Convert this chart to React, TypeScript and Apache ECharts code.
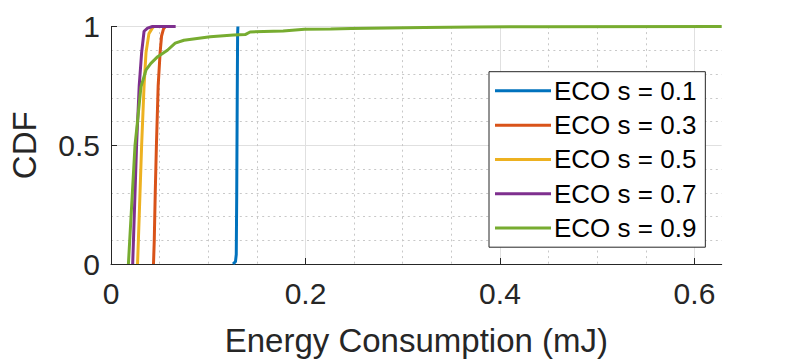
import React, { useEffect, useRef } from "react";
import * as echarts from "echarts";

const seriesNames = ["ECO s = 0.1", "ECO s = 0.3", "ECO s = 0.5", "ECO s = 0.7", "ECO s = 0.9"];
const seriesColors = ["#0072BD", "#D95319", "#EDB120", "#7E2F8E", "#77AC30"];

const eco01X = [0.1255, 0.128, 0.1288, 0.1293, 0.1298, 0.1302, 0.1305];
const eco01Y = [0, 0.01, 0.04, 0.3, 0.7, 0.97, 1];

const eco03X = [0.0437, 0.0445, 0.0455, 0.0467, 0.0485, 0.0505, 0.052, 0.054, 0.056, 0.058];
const eco03Y = [0, 0.1, 0.3, 0.5, 0.75, 0.89, 0.96, 0.99, 1, 1];

const eco05X = [0.0273, 0.029, 0.0315, 0.034, 0.036, 0.039, 0.042, 0.044, 0.047];
const eco05Y = [0, 0.2, 0.5, 0.75, 0.89, 0.97, 0.99, 1, 1];

const eco07X = [0.0223, 0.0243, 0.0263, 0.029, 0.0315, 0.034, 0.0376, 0.0426, 0.0665];
const eco07Y = [0, 0.25, 0.5, 0.75, 0.89, 0.98, 0.993, 1, 1];

const eco09X = [0.0179, 0.0213, 0.0247, 0.0274, 0.0308, 0.036, 0.041, 0.048, 0.058, 0.066, 0.075, 0.102, 0.126, 0.138, 0.143, 0.177, 0.199, 0.226, 0.247, 0.322, 0.373, 0.44, 0.628];
const eco09Y = [0, 0.25, 0.5, 0.606, 0.746, 0.817, 0.845, 0.873, 0.9, 0.93, 0.942, 0.957, 0.964, 0.966, 0.977, 0.981, 0.988, 0.989, 0.992, 0.996, 0.998, 0.999, 1];

const xTicks = [0, 0.2, 0.4, 0.6];
const yTicks = [0, 0.5, 1];

const allX = [eco01X, eco03X, eco05X, eco07X, eco09X];
const allY = [eco01Y, eco03Y, eco05Y, eco07Y, eco09Y];

const FONT = "'Liberation Sans', Arial, Helvetica, sans-serif";
const AXIS_COLOR = "#262626";

export default function App() {
  const ref = useRef<HTMLDivElement>(null);
  useEffect(() => {
    if (!ref.current) return;
    const chart = echarts.init(ref.current, undefined, { renderer: "svg" });
    const series = seriesNames.map((name, i) => ({
      name,
      type: "line",
      data: allX[i].map((x, j) => [x, allY[i][j]]),
      showSymbol: false,
      symbol: "none",
      lineStyle: { color: seriesColors[i], width: 3 },
      itemStyle: { color: seriesColors[i] },
      z: 3 + i,
    }));
    chart.setOption({
      animation: false,
      backgroundColor: "#ffffff",
      textStyle: { fontFamily: FONT },
      grid: { left: 106.5, right: 75.3, top: 26.5, bottom: 100, containLabel: false },
      legend: {
        orient: "vertical",
        left: 489,
        top: 71.7,
        icon: "rect",
        itemWidth: 56,
        itemHeight: 3,
        itemGap: 0,
        padding: [2, 9, 2, 6],
        backgroundColor: "#ffffff",
        borderColor: AXIS_COLOR,
        borderWidth: 1,
        borderRadius: 0,
        textStyle: { fontFamily: FONT, fontSize: 26, color: "#000000", lineHeight: 34.3, padding: [0, 0, 0, -2] },
        data: seriesNames,
        z: 20,
      },
      xAxis: {
        type: "value",
        min: 0,
        max: 0.628,
        interval: 0.2,
        name: "Energy Consumption (mJ)",
        nameLocation: "middle",
        nameGap: 60,
        nameTextStyle: { fontFamily: FONT, fontSize: 33, color: AXIS_COLOR },
        axisLine: { show: true, onZero: false, lineStyle: { color: AXIS_COLOR, width: 1 } },
        axisTick: { show: true, inside: true, length: 6, lineStyle: { color: AXIS_COLOR } },
        axisLabel: {
          fontFamily: FONT,
          fontSize: 30,
          color: AXIS_COLOR,
          margin: 14,
          showMaxLabel: false,
          formatter: (v: number) => (xTicks.some((t) => Math.abs(t - v) < 1e-6) ? String(v) : ""),
        },
        splitLine: {
          show: true,
          lineStyle: { color: ["#e0e0e0", "#e0e0e0", "#e0e0e0", "#e0e0e0", "rgba(0,0,0,0)"], width: 1 },
        },
        minorTick: { show: false, splitNumber: 4 },
        minorSplitLine: { show: true, lineStyle: { color: "#c8c8c8", width: 1, type: [2, 3.6] } },
      },
      yAxis: {
        type: "value",
        min: 0,
        max: 1,
        interval: 0.5,
        name: "CDF",
        nameLocation: "middle",
        nameGap: 70,
        nameRotate: 90,
        nameTextStyle: { fontFamily: FONT, fontSize: 33, color: AXIS_COLOR },
        axisLine: { show: true, onZero: false, lineStyle: { color: AXIS_COLOR, width: 1 } },
        axisTick: { show: true, inside: true, length: 6, lineStyle: { color: AXIS_COLOR } },
        axisLabel: {
          fontFamily: FONT,
          fontSize: 30,
          color: AXIS_COLOR,
          margin: 11,
          formatter: (v: number) => (yTicks.some((t) => Math.abs(t - v) < 1e-6) ? String(v) : ""),
        },
        splitLine: { show: true, lineStyle: { color: "#e0e0e0", width: 1 } },
        minorTick: { show: false, splitNumber: 5 },
        minorSplitLine: { show: true, lineStyle: { color: "#c8c8c8", width: 1, type: [2, 3.6] } },
      },
      series,
    });
    return () => chart.dispose();
  }, []);
  return <div ref={ref} style={{ width: 797, height: 364, position: "absolute", left: 0, top: 0 }} />;
}
